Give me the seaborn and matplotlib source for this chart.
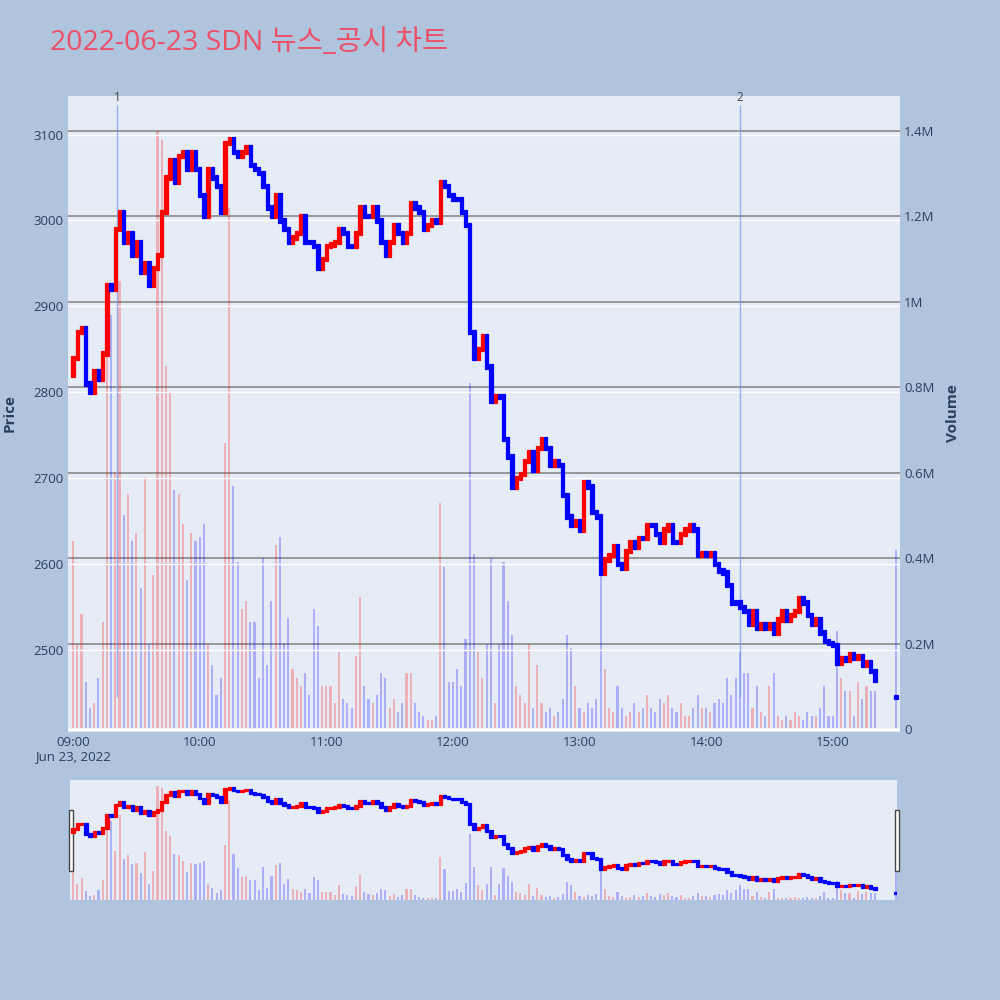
import numpy as np
import pandas as pd
import matplotlib
matplotlib.use("Agg")
import matplotlib.pyplot as plt
import matplotlib.transforms as mtransforms
from matplotlib.patches import Rectangle
import seaborn as sns

title = "2022-06-23 SDN 뉴스_공시 차트"
session_date = "2022-06-23"

# closing price of each 2-minute candle, 09:00 ~ 15:20 (open = previous close)
open_first = 2820
close_09 = [2840, 2870, 2875, 2810, 2800, 2825, 2815, 2845, 2925, 2920,
            2990, 3010, 2975, 2985, 2960, 2975, 2940, 2950, 2925, 2945,
            2960, 3010, 3050, 3070, 3045, 3075, 3080, 3060, 3080, 3060]
close_10 = [3030, 3005, 3060, 3050, 3040, 3010, 3090, 3095, 3080, 3075,
            3080, 3085, 3065, 3060, 3055, 3040, 3015, 3005, 3030, 3000,
            2990, 2975, 2980, 2985, 3005, 2975, 2975, 2970, 2945, 2955]
close_11 = [2970, 2972, 2975, 2990, 2985, 2970, 2970, 2985, 3015, 3005,
            3005, 3015, 3000, 2975, 2960, 2975, 2995, 2985, 2975, 2985,
            3020, 3015, 3010, 2990, 2995, 3000, 2998, 3045, 3040, 3030]
close_12 = [3025, 3025, 3010, 2995, 2870, 2840, 2850, 2865, 2830, 2790,
            2795, 2795, 2745, 2725, 2690, 2700, 2705, 2720, 2730, 2710,
            2735, 2745, 2735, 2715, 2720, 2715, 2680, 2655, 2645, 2650]
close_13 = [2640, 2695, 2690, 2660, 2655, 2590, 2605, 2610, 2620, 2600,
            2595, 2615, 2625, 2620, 2630, 2630, 2645, 2645, 2635, 2625,
            2640, 2645, 2625, 2625, 2635, 2640, 2645, 2640, 2610, 2612]
close_14 = [2610, 2612, 2600, 2592, 2590, 2575, 2555, 2555, 2550, 2545,
            2530, 2545, 2525, 2530, 2525, 2530, 2520, 2535, 2545, 2535,
            2540, 2545, 2560, 2555, 2540, 2530, 2535, 2520, 2510, 2508]
close_15 = [2505, 2485, 2490, 2488, 2495, 2490, 2492, 2482, 2485, 2475, 2465]

# volume (millions of shares) of the same candles
vol_09 = [0.44, 0.20, 0.27, 0.11, 0.05, 0.06, 0.12, 0.25, 0.92, 0.97,
          0.60, 1.05, 0.50, 0.55, 0.44, 0.46, 0.33, 0.59, 0.20, 0.36,
          1.40, 1.38, 0.85, 0.79, 0.56, 0.55, 0.48, 0.35, 0.46, 0.44]
vol_10 = [0.45, 0.48, 0.20, 0.15, 0.08, 0.12, 0.67, 1.22, 0.57, 0.39,
          0.28, 0.30, 0.25, 0.25, 0.12, 0.40, 0.15, 0.30, 0.43, 0.45,
          0.20, 0.26, 0.14, 0.12, 0.10, 0.13, 0.08, 0.28, 0.24, 0.10]
vol_11 = [0.10, 0.10, 0.06, 0.18, 0.07, 0.06, 0.05, 0.17, 0.31, 0.10,
          0.07, 0.06, 0.08, 0.13, 0.12, 0.05, 0.07, 0.04, 0.06, 0.13,
          0.13, 0.06, 0.04, 0.03, 0.02, 0.02, 0.03, 0.53, 0.38, 0.11]
vol_12 = [0.11, 0.14, 0.10, 0.21, 0.81, 0.41, 0.18, 0.12, 0.20, 0.40,
          0.06, 0.20, 0.39, 0.30, 0.22, 0.10, 0.08, 0.06, 0.20, 0.05,
          0.15, 0.06, 0.04, 0.05, 0.03, 0.04, 0.07, 0.22, 0.19, 0.10]
vol_13 = [0.05, 0.04, 0.06, 0.05, 0.07, 0.43, 0.14, 0.05, 0.04, 0.10,
          0.05, 0.03, 0.04, 0.06, 0.04, 0.05, 0.08, 0.05, 0.04, 0.07,
          0.06, 0.08, 0.05, 0.04, 0.06, 0.03, 0.03, 0.05, 0.08, 0.05]
vol_14 = [0.05, 0.04, 0.06, 0.07, 0.06, 0.12, 0.08, 0.12, 0.18, 0.13,
          0.13, 0.05, 0.10, 0.04, 0.03, 0.10, 0.13, 0.03, 0.02, 0.03,
          0.02, 0.04, 0.03, 0.02, 0.04, 0.03, 0.03, 0.05, 0.10, 0.03]
vol_15 = [0.03, 0.23, 0.12, 0.09, 0.09, 0.03, 0.11, 0.07, 0.10, 0.09, 0.09]

# closing auction
auction_time = "15:30"
auction_open = 2445
auction_close = 2445
auction_volume = 0.42

day_high = 3135
event_times = ["09:21", "14:16"]
event_labels = ["1", "2"]

price_ticks = [2500, 2600, 2700, 2800, 2900, 3000, 3100]
vol_ticks = [0, 0.2, 0.4, 0.6, 0.8, 1.0, 1.2, 1.4]
vol_tick_labels = ["0", "0.2M", "0.4M", "0.6M", "0.8M", "1M", "1.2M", "1.4M"]
hour_ticks = ["09:00", "10:00", "11:00", "12:00", "13:00", "14:00", "15:00"]
date_label = "Jun 23, 2022"

palette = {"up": "#ff0000", "down": "#0000ff"}
bg = "#B0C4DE"
plot_bg = "#E5ECF6"
text_color = "#2a3f5f"

sns.set_theme(style="white")
plt.rcParams["font.family"] = ["Open Sans", "Noto Sans CJK KR", "DejaVu Sans"]

# ---- table ----
times = pd.date_range(f"{session_date} 09:00", f"{session_date} 15:20", freq="2min").strftime("%H:%M").tolist()
times.append(auction_time)
closes = close_09 + close_10 + close_11 + close_12 + close_13 + close_14 + close_15 + [auction_close]
volumes = vol_09 + vol_10 + vol_11 + vol_12 + vol_13 + vol_14 + vol_15 + [auction_volume]

df = pd.DataFrame({"time": times, "close": closes, "volume": volumes})


def to_minute(labels):
    t = pd.to_datetime(session_date + " " + pd.Series(labels))
    return ((t - pd.Timestamp(f"{session_date} 09:00")).dt.total_seconds() / 60).to_numpy()


df["minute"] = to_minute(df["time"])
df["open"] = df["close"].shift(1)
df.loc[0, "open"] = open_first
df.loc[df.index[-1], "open"] = auction_open
df["direction"] = np.where(df["close"] > df["open"], "up", "down")


def draw_candles(ax, pad, width, lw):
    for d, color in palette.items():
        part = df[df["direction"] == d]
        low = np.minimum(part["open"], part["close"]) - pad
        high = np.maximum(part["open"], part["close"]) + pad
        ax.bar(part["minute"], high - low, bottom=low, width=width,
               color=color, edgecolor=color, linewidth=lw, zorder=3)


def draw_volume(ax, alpha):
    sns.barplot(data=df, x="minute", y="volume", hue="direction",
                hue_order=["up", "down"], palette=palette, native_scale=True,
                dodge=False, width=0.5, errorbar=None, saturation=1,
                legend=False, alpha=alpha, linewidth=0, ax=ax)
    ax.set_xlabel("")
    ax.set_ylabel("")


fig = plt.figure(figsize=(10, 10), dpi=100)
fig.patch.set_facecolor(bg)

# ---- main chart ----
ax = fig.add_axes([0.068, 0.268, 0.832, 0.636])
ax_vol = ax.twinx()
ax.set_zorder(ax_vol.get_zorder() + 1)
ax.patch.set_visible(False)
ax_vol.patch.set_visible(True)
ax_vol.patch.set_facecolor(plot_bg)

draw_volume(ax_vol, 0.25)
ax_vol.set_ylim(-0.007, 1.482)
ax_vol.set_yticks(vol_ticks)
ax_vol.set_yticklabels(vol_tick_labels)
ax_vol.grid(axis="y", color="#808080", linewidth=1.1)
ax_vol.grid(axis="x", visible=False)
ax_vol.axhline(0, color="white", linewidth=2, zorder=1)
ax_vol.tick_params(axis="y", length=0, pad=3, labelsize=9.5, labelcolor=text_color)

draw_candles(ax, pad=2.5, width=1.6, lw=0.9)
ax.set_ylim(2404, 3145)
ax.set_yticks(price_ticks)
ax.grid(axis="y", color="white", linewidth=1)
ax.grid(axis="x", visible=False)
ax.tick_params(axis="y", length=0, pad=3, labelsize=9.5, labelcolor=text_color)

hour_minutes = to_minute(hour_ticks)
ax.set_xticks(hour_minutes)
ax.set_xticklabels([hour_ticks[0] + "\n" + date_label] + hour_ticks[1:],
                   linespacing=1.05)
ax.tick_params(axis="x", length=0, pad=3, labelsize=9.5, labelcolor=text_color)
ax.set_xlim(-2.4, 391.9)

# news / disclosure markers
event_minutes = to_minute(event_times)
ax.vlines(event_minutes, df["close"].min(), day_high, color="#7d98ee",
          linewidth=1, alpha=0.75, zorder=2)
trans = mtransforms.blended_transform_factory(ax.transData, ax.transAxes)
for m, lab in zip(event_minutes, event_labels):
    ax.text(m, 0.998, lab, transform=trans, ha="center", va="center",
            fontsize=8.5, color="#444444")

for a in (ax, ax_vol):
    for s in a.spines.values():
        s.set_visible(False)

# ---- range slider ----
sl = fig.add_axes([0.070, 0.100, 0.827, 0.120])
sl_vol = sl.twinx()
sl.set_zorder(sl_vol.get_zorder() + 1)
sl.patch.set_visible(False)
sl_vol.patch.set_visible(True)
sl_vol.patch.set_facecolor(plot_bg)
draw_volume(sl_vol, 0.25)
sl_vol.set_ylim(0, 1.474)
draw_candles(sl, pad=6, width=1.6, lw=0.9)
sl.set_ylim(2400, 3145)
sl.set_xlim(-1.5, 390.5)
for a in (sl, sl_vol):
    a.set_xticks([])
    a.set_yticks([])
    a.grid(False)
    for s in a.spines.values():
        s.set_visible(False)

for hx in (0.0693, 0.8953):
    fig.add_artist(Rectangle((hx, 0.129), 0.0038, 0.061, transform=fig.transFigure,
                             facecolor="white", edgecolor="#444444", linewidth=1))

# ---- text ----
fig.text(0.050, 0.9495, title, fontsize=20.5, color="#EB5067", ha="left", va="baseline")
fig.text(0.010, 0.587, "Price", rotation=90, fontsize=11, fontweight="bold",
         color=text_color, ha="center", va="center")
fig.text(0.953, 0.587, "Volume", rotation=90, fontsize=11, fontweight="bold",
         color=text_color, ha="center", va="center")

fig.savefig("out.png", dpi=100, facecolor=bg)
